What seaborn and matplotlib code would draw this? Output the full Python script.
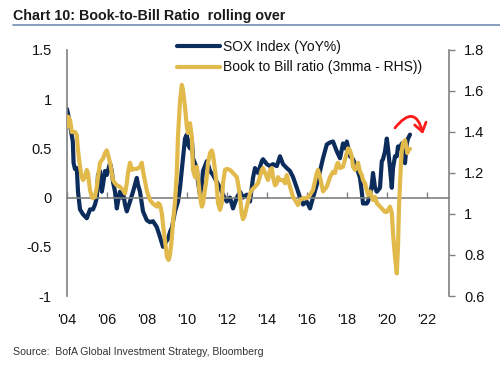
import matplotlib
matplotlib.use("Agg")
import matplotlib.pyplot as plt
import seaborn as sns
import pandas as pd
from matplotlib.lines import Line2D

# ---------------- data ----------------
sox_years = [2004.0, 2004.05, 2004.15, 2004.29, 2004.33, 2004.4, 2004.49, 2004.55, 2004.65, 2004.8,
             2004.99, 2005.15, 2005.3, 2005.4, 2005.49, 2005.55, 2005.65, 2005.74, 2005.8, 2005.9,
             2005.99, 2006.15, 2006.24, 2006.3, 2006.4, 2006.49, 2006.55, 2006.65, 2006.74, 2006.8,
             2006.9, 2006.99, 2007.15, 2007.3, 2007.49, 2007.55, 2007.65, 2007.8, 2007.99, 2008.15,
             2008.3, 2008.49, 2008.65, 2008.8, 2008.95, 2009.05, 2009.15, 2009.25, 2009.4, 2009.55,
             2009.65, 2009.8, 2009.9, 2009.99, 2010.05, 2010.15, 2010.24, 2010.3, 2010.49, 2010.55,
             2010.65, 2010.74, 2010.8, 2010.99, 2011.05, 2011.15, 2011.3, 2011.49, 2011.65, 2011.8,
             2011.99, 2012.15, 2012.3, 2012.49, 2012.65, 2012.8, 2012.99, 2013.15, 2013.3, 2013.4,
             2013.55, 2013.74, 2013.8, 2013.99, 2014.15, 2014.3, 2014.49, 2014.65, 2014.8, 2014.99,
             2015.15, 2015.3, 2015.49, 2015.65, 2015.8, 2015.99, 2016.15, 2016.3, 2016.49, 2016.65,
             2016.8, 2016.99, 2017.15, 2017.3, 2017.49, 2017.65, 2017.8, 2017.9, 2017.99, 2018.15,
             2018.3, 2018.49, 2018.65, 2018.74, 2018.8, 2018.99, 2019.05, 2019.15, 2019.24, 2019.3,
             2019.4, 2019.49, 2019.65, 2019.74, 2019.8, 2019.9, 2019.99, 2020.05, 2020.15, 2020.24,
             2020.3, 2020.4, 2020.49, 2020.55, 2020.65, 2020.74, 2020.8, 2020.9, 2020.99, 2021.05,
             2021.15]
sox_yoy = [0.90, 0.85, 0.74, 0.57, 0.35, 0.29, 0.30, 0.06, -0.12, -0.17,
           -0.21, -0.12, -0.12, -0.07, 0.00, 0.23, 0.27, 0.06, 0.13, 0.27,
           0.23, 0.35, 0.27, 0.16, 0.06, -0.11, -0.04, 0.06, 0.00, 0.06,
           -0.07, -0.14, -0.04, 0.06, 0.20, 0.13, 0.06, -0.14, -0.23, -0.25,
           -0.24, -0.30, -0.40, -0.50, -0.45, -0.42, -0.35, -0.30, -0.14, -0.04,
           0.10, 0.40, 0.60, 0.64, 0.54, 0.50, 0.60, 0.40, 0.30, 0.16,
           0.03, 0.13, 0.27, 0.37, 0.34, 0.27, 0.23, 0.16, 0.10, 0.03,
           -0.04, 0.00, -0.11, 0.00, 0.06, 0.00, 0.03, -0.04, 0.20, 0.30,
           0.25, 0.37, 0.39, 0.34, 0.32, 0.34, 0.32, 0.42, 0.34, 0.30,
           0.27, 0.21, 0.10, 0.00, -0.07, -0.04, -0.11, 0.00, 0.13, 0.27,
           0.40, 0.54, 0.56, 0.57, 0.47, 0.40, 0.55, 0.50, 0.57, 0.42,
           0.39, 0.30, 0.20, 0.06, -0.06, -0.06, -0.04, 0.03, 0.13, 0.25,
           0.10, 0.06, 0.10, 0.37, 0.39, 0.47, 0.60, 0.50, 0.30, 0.10,
           0.30, 0.42, 0.42, 0.52, 0.50, 0.55, 0.39, 0.35, 0.55, 0.60,
           0.64]

btb_years = [2004.0, 2004.05, 2004.15, 2004.24, 2004.4, 2004.49, 2004.55, 2004.65, 2004.74, 2004.8,
             2004.9, 2004.99, 2005.05, 2005.15, 2005.24, 2005.3, 2005.4, 2005.49, 2005.55, 2005.65,
             2005.74, 2005.8, 2005.9, 2005.99, 2006.05, 2006.15, 2006.24, 2006.3, 2006.4, 2006.49,
             2006.65, 2006.8, 2006.9, 2006.99, 2007.05, 2007.15, 2007.24, 2007.3, 2007.49, 2007.65,
             2007.74, 2007.8, 2007.9, 2008.0, 2008.15, 2008.3, 2008.49, 2008.55, 2008.65, 2008.74,
             2008.8, 2008.9, 2009.0, 2009.08, 2009.15, 2009.24, 2009.3, 2009.4, 2009.49, 2009.55,
             2009.65, 2009.74, 2009.8, 2009.9, 2009.99, 2010.05, 2010.15, 2010.24, 2010.3, 2010.4,
             2010.49, 2010.55, 2010.65, 2010.74, 2010.8, 2010.9, 2010.99, 2011.05, 2011.15, 2011.24,
             2011.3, 2011.4, 2011.49, 2011.55, 2011.65, 2011.74, 2011.8, 2011.9, 2011.99, 2012.15,
             2012.3, 2012.49, 2012.55, 2012.65, 2012.74, 2012.8, 2012.88, 2012.99, 2013.15, 2013.24,
             2013.4, 2013.55, 2013.74, 2013.8, 2013.99, 2014.05, 2014.15, 2014.24, 2014.3, 2014.4,
             2014.49, 2014.55, 2014.65, 2014.8, 2014.9, 2014.99, 2015.05, 2015.15, 2015.3, 2015.49,
             2015.55, 2015.65, 2015.8, 2015.99, 2016.15, 2016.3, 2016.49, 2016.55, 2016.65, 2016.8,
             2016.99, 2017.15, 2017.3, 2017.4, 2017.49, 2017.55, 2017.65, 2017.8, 2017.99, 2018.05,
             2018.15, 2018.24, 2018.3, 2018.4, 2018.49, 2018.55, 2018.65, 2018.74, 2018.8, 2018.9,
             2018.99, 2019.05, 2019.15, 2019.24, 2019.3, 2019.4, 2019.49, 2019.65, 2019.8, 2019.9,
             2019.99, 2020.05, 2020.15, 2020.24, 2020.3, 2020.4, 2020.49, 2020.55, 2020.6, 2020.69,
             2020.74, 2020.8, 2020.9, 2020.95, 2021.02, 2021.05, 2021.15]
btb_ratio = [1.426, 1.475, 1.46, 1.40, 1.40, 1.385, 1.31, 1.23, 1.18, 1.166,
             1.18, 1.215, 1.20, 1.117, 1.084, 1.077, 1.084, 1.133, 1.18, 1.25,
             1.263, 1.27, 1.297, 1.31, 1.29, 1.25, 1.20, 1.166, 1.15, 1.14,
             1.133, 1.117, 1.10, 1.15, 1.20, 1.25, 1.215, 1.22, 1.22, 1.23,
             1.25, 1.21, 1.16, 1.11, 1.068, 1.05, 1.036, 1.053, 1.045, 1.005,
             0.95, 0.87, 0.79, 0.776, 0.80, 0.88, 0.96, 1.06, 1.20, 1.38,
             1.55, 1.63, 1.605, 1.523, 1.426, 1.395, 1.443, 1.377, 1.215, 1.18,
             1.23, 1.18, 1.084, 1.036, 1.05, 1.117, 1.18, 1.25, 1.297, 1.31,
             1.29, 1.215, 1.133, 1.053, 1.02, 1.053, 1.15, 1.215, 1.22, 1.215,
             1.20, 1.18, 1.15, 1.084, 1.0, 0.975, 0.99, 1.036, 1.10, 1.117,
             1.133, 1.15, 1.215, 1.224, 1.18, 1.166, 1.215, 1.224, 1.18, 1.14,
             1.15, 1.18, 1.166, 1.166, 1.15, 1.19, 1.166, 1.133, 1.084, 1.053,
             1.044, 1.068, 1.077, 1.077, 1.093, 1.117, 1.20, 1.215, 1.18, 1.11,
             1.133, 1.18, 1.206, 1.20, 1.24, 1.25, 1.224, 1.23, 1.297, 1.32,
             1.31, 1.28, 1.23, 1.215, 1.23, 1.25, 1.206, 1.19, 1.166, 1.15,
             1.117, 1.093, 1.11, 1.084, 1.068, 1.084, 1.053, 1.036, 1.02, 1.01,
             1.01, 1.02, 1.036, 1.005, 0.907, 0.79, 0.71, 0.84, 1.036, 1.23,
             1.31, 1.346, 1.36, 1.337, 1.297, 1.31, 1.317]

tick_years = [2004, 2006, 2008, 2010, 2012, 2014, 2016, 2018, 2020, 2022]
tick_labels = ["'04", "'06", "'08", "'10", "'12", "'14", "'16", "'18", "'20", "'22"]
left_ticks = [-1, -0.5, 0, 0.5, 1, 1.5]
left_labels = ["-1", "-0.5", "0", "0.5", "1", "1.5"]
right_ticks = [0.6, 0.8, 1.0, 1.2, 1.4, 1.6, 1.8]
right_labels = ["0.6", "0.8", "1", "1.2", "1.4", "1.6", "1.8"]
label_sox = "SOX Index (YoY%)"
label_btb = "Book to Bill ratio (3mma - RHS))"
title = "Chart 10: Book-to-Bill Ratio  rolling over"
source = "Source:  BofA Global Investment Strategy, Bloomberg"

# ---------------- style ----------------
sns.set_theme(style="white")
plt.rcParams["font.family"] = ["Liberation Sans", "DejaVu Sans"]

NAVY = "#0c2c5c"
GOLD = "#e2b94b"
SPINE = "#808080"
TXT = "#111111"
TICK_FS = 10.5

sox_df = pd.DataFrame({"year": sox_years, "value": sox_yoy})
btb_df = pd.DataFrame({"year": btb_years, "value": btb_ratio})

fig = plt.figure(figsize=(5.0, 3.72), dpi=100)
ax = fig.add_axes([0.134, 0.2043, 0.764, 0.6613])
ax2 = ax.twinx()

sns.lineplot(data=sox_df, x="year", y="value", ax=ax, color=NAVY, lw=3.0,
             estimator=None, sort=False, legend=False)
sns.lineplot(data=btb_df, x="year", y="value", ax=ax2, color=GOLD, lw=3.0,
             estimator=None, sort=False, legend=False)

ax.set_xlim(2004, 2023.1)
ax.set_ylim(-1, 1.5)
ax2.set_ylim(0.6, 1.8)
for a in (ax, ax2):
    a.set_xlabel("")
    a.set_ylabel("")
    a.set_facecolor("none")

# spines
for s in ["top", "right"]:
    ax.spines[s].set_visible(False)
ax.spines["left"].set_color(SPINE)
ax.spines["left"].set_linewidth(1.2)
ax.spines["bottom"].set_position(("data", 0))
ax.spines["bottom"].set_color(SPINE)
ax.spines["bottom"].set_linewidth(1.2)
for s in ["top", "left", "bottom"]:
    ax2.spines[s].set_visible(False)
ax2.spines["right"].set_color(SPINE)
ax2.spines["right"].set_linewidth(1.2)

# x ticks on zero line (pointing up), labels at the bottom via secondary axis
ax.set_xticks(tick_years)
ax.tick_params(axis="x", direction="in", length=4, width=1.0, color=SPINE,
               labelbottom=False, bottom=True)
sec = ax.secondary_xaxis("bottom")
sec.set_xticks(tick_years)
sec.set_xticklabels(tick_labels)
sec.spines["bottom"].set_visible(False)
sec.tick_params(axis="x", length=0, pad=12, labelsize=TICK_FS, labelcolor=TXT)

ax.set_yticks(left_ticks)
ax.set_yticklabels(left_labels)
ax.tick_params(axis="y", left=False, length=0, pad=11, labelsize=TICK_FS, labelcolor=TXT)

ax2.set_yticks(right_ticks)
ax2.set_yticklabels(right_labels)
ax2.tick_params(axis="y", right=True, direction="out", length=4, width=1.0,
                color=SPINE, pad=7, labelsize=TICK_FS, labelcolor=TXT)

# legend
handles = [Line2D([], [], color=NAVY, lw=3.0), Line2D([], [], color=GOLD, lw=3.0)]
leg = fig.legend(handles, [label_sox, label_btb], loc="upper left",
                 bbox_to_anchor=(0.354, 0.892), frameon=False, fontsize=10,
                 handlelength=3.1, handletextpad=0.2, labelspacing=0.45,
                 borderaxespad=0, borderpad=0)
for t in leg.get_texts():
    t.set_color(TXT)

# red curved arrow
ax2.annotate("", xy=(2021.8, 1.39), xytext=(2020.4, 1.42), xycoords="data",
             arrowprops=dict(arrowstyle="->,head_length=0.5,head_width=0.35",
                             connectionstyle="arc3,rad=-1.0", color="#ff1a1a",
                             lw=2.0, shrinkA=0, shrinkB=0))

# title, rule and source
fig.text(0.026, 0.957, title, fontsize=10.3, fontweight="bold", color="#1a1a1a",
         ha="left", va="center")
fig.add_artist(Line2D([0.026, 1.0], [0.933, 0.933], color="#7f95b8", lw=1.3,
                      transform=fig.transFigure))
fig.text(0.026, 0.054, source, fontsize=7.6, color="#333333", ha="left", va="center")

fig.savefig("out.png", dpi=100)
